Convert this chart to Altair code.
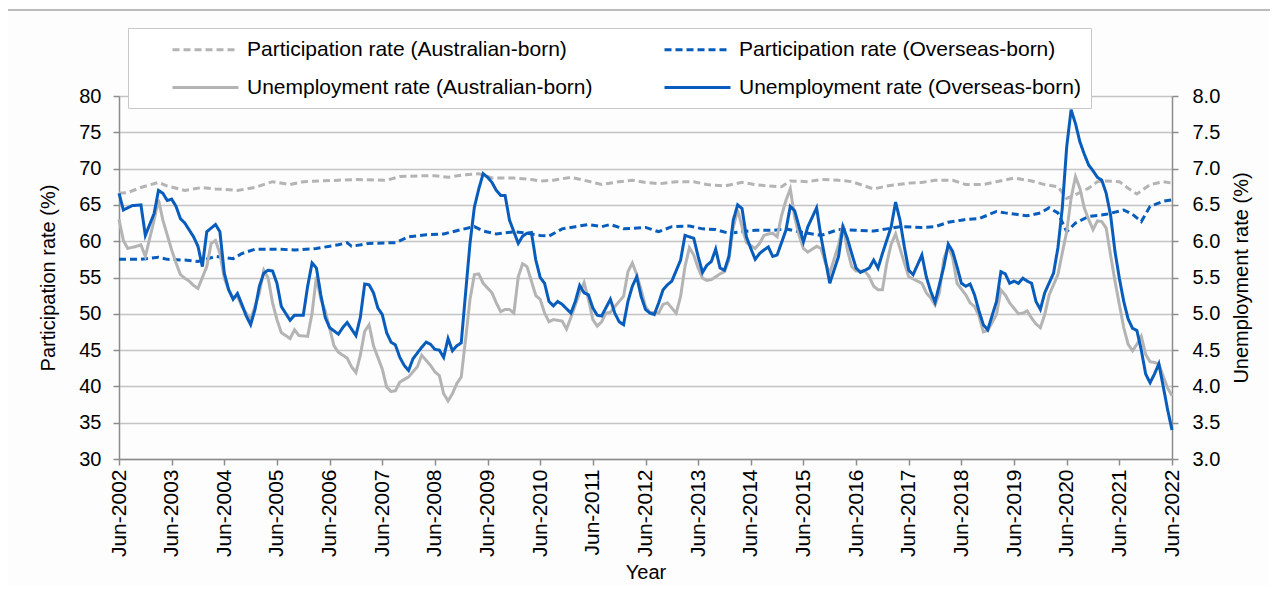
import altair as alt
import pandas as pd

# Month offsets from Jun-2002 (0 = Jun-2002, 240 = Jun-2022) and values
PART_AUS = [(0, 66.6), (2, 66.7), (5, 67.4), (9, 68.1), (11, 67.6), (15, 67.0), (19, 67.4), (22, 67.2),
            (27, 67.0), (31, 67.4), (35, 68.2), (39, 67.8), (42, 68.2), (46, 68.3), (50, 68.4), (54, 68.5),
            (61, 68.4), (64, 68.9), (69, 69.0), (72, 69.0), (75, 68.8), (78, 69.1), (82, 69.3), (85, 68.7),
            (90, 68.7), (94, 68.5), (96, 68.3), (99, 68.4), (103, 68.8), (106, 68.4), (110, 67.8), (114, 68.2),
            (117, 68.4), (120, 68.1), (123, 67.9), (127, 68.2), (131, 68.2), (134, 67.8), (138, 67.6),
            (142, 68.1), (145, 67.8), (148, 67.6), (151, 67.5), (153, 68.3), (157, 68.2), (160, 68.5),
            (164, 68.4), (167, 68.2), (172, 67.2), (175, 67.6), (180, 68.0), (183, 68.1), (186, 68.4),
            (190, 68.4), (193, 67.8), (197, 67.8), (200, 68.2), (204, 68.7), (208, 68.3), (211, 67.8),
            (214, 67.5), (216, 65.9), (218, 66.4), (221, 67.3), (223, 68.2), (225, 68.3), (228, 68.2),
            (230, 67.3), (232, 66.5), (235, 67.8), (238, 68.2), (240, 68.0)]

PART_OS = [(0, 57.5), (5, 57.5), (9, 57.8), (11, 57.5), (15, 57.4), (18, 57.2), (22, 57.9), (26, 57.6),
           (28, 58.3), (31, 58.9), (36, 58.9), (40, 58.8), (45, 59.0), (50, 59.5), (52, 59.8), (53, 59.3),
           (57, 59.7), (63, 59.8), (66, 60.6), (70, 60.9), (74, 61.0), (78, 61.6), (81, 62.0), (83, 61.4),
           (86, 61.0), (90, 61.3), (93, 61.1), (96, 60.8), (98, 60.7), (101, 61.7), (104, 62.0), (107, 62.3),
           (110, 62.0), (112, 62.3), (115, 61.7), (120, 61.9), (123, 61.3), (126, 62.0), (130, 62.1),
           (133, 61.7), (136, 61.6), (139, 61.1), (142, 61.3), (145, 61.5), (149, 61.5), (152, 61.7),
           (155, 61.3), (160, 60.8), (164, 61.6), (168, 61.5), (172, 61.4), (175, 61.7), (178, 62.0),
           (183, 61.9), (186, 62.0), (189, 62.6), (192, 62.9), (193, 63.0), (196, 63.1), (200, 64.1),
           (202, 63.9), (207, 63.5), (210, 63.9), (212, 64.6), (214, 63.9), (216, 61.3), (218, 62.5),
           (221, 63.4), (225, 63.7), (229, 64.3), (231, 63.7), (233, 62.7), (235, 64.8), (238, 65.5),
           (240, 65.7)]

UNEMP_AUS = [(0, 6.30), (1, 6.01), (2, 5.90), (4, 5.93), (5, 5.95), (6, 5.79), (8, 6.29), (9, 6.57),
             (10, 6.29), (12, 5.88), (13, 5.70), (14, 5.54), (15, 5.49), (16, 5.45), (17, 5.39), (18, 5.35),
             (20, 5.65), (21, 5.97), (22, 6.01), (23, 5.83), (24, 5.49), (25, 5.33), (26, 5.22), (27, 5.24),
             (28, 5.10), (29, 5.01), (30, 4.92), (32, 5.29), (33, 5.60), (34, 5.49), (35, 5.15), (36, 4.92),
             (37, 4.74), (39, 4.66), (40, 4.78), (41, 4.70), (43, 4.69), (44, 5.01), (45, 5.51), (46, 5.20),
             (47, 5.04), (49, 4.56), (50, 4.47), (52, 4.39), (53, 4.27), (54, 4.19), (55, 4.43), (56, 4.76),
             (57, 4.85), (58, 4.56), (60, 4.24), (61, 3.99), (62, 3.93), (63, 3.94), (64, 4.06), (66, 4.13),
             (68, 4.27), (69, 4.43), (71, 4.29), (72, 4.20), (73, 4.15), (74, 3.90), (75, 3.80), (76, 3.90),
             (77, 4.04), (78, 4.13), (79, 4.65), (80, 5.20), (81, 5.54), (82, 5.55), (83, 5.42), (85, 5.29),
             (86, 5.15), (87, 5.03), (88, 5.06), (89, 5.06), (90, 5.01), (91, 5.51), (92, 5.69), (93, 5.65),
             (94, 5.45), (95, 5.25), (96, 5.20), (97, 5.01), (98, 4.89), (99, 4.92), (101, 4.90), (102, 4.79),
             (103, 4.95), (105, 5.29), (106, 5.43), (107, 5.20), (108, 4.92), (109, 4.83), (110, 4.89),
             (111, 5.01), (112, 5.02), (113, 5.10), (115, 5.24), (116, 5.58), (117, 5.70), (118, 5.54),
             (119, 5.33), (120, 5.10), (121, 5.02), (123, 5.01), (124, 5.13), (125, 5.15), (126, 5.08),
             (127, 5.01), (128, 5.24), (129, 5.65), (130, 5.91), (131, 5.81), (132, 5.63), (133, 5.49),
             (134, 5.46), (135, 5.47), (136, 5.51), (137, 5.55), (138, 5.58), (139, 5.74), (140, 6.19),
             (141, 6.43), (142, 6.20), (143, 5.98), (145, 5.90), (146, 5.97), (147, 6.08), (148, 6.10),
             (149, 6.11), (150, 6.06), (151, 6.35), (152, 6.56), (153, 6.72), (154, 6.33), (155, 6.08),
             (156, 5.90), (157, 5.85), (159, 5.93), (160, 5.90), (161, 5.70), (162, 5.56), (164, 5.95),
             (165, 6.23), (166, 5.88), (167, 5.65), (168, 5.59), (170, 5.59), (171, 5.51), (172, 5.38),
             (173, 5.33), (174, 5.33), (175, 5.70), (176, 5.96), (177, 6.10), (178, 5.90), (179, 5.70),
             (180, 5.51), (181, 5.48), (183, 5.42), (184, 5.29), (185, 5.22), (186, 5.12), (187, 5.29),
             (188, 5.76), (189, 5.92), (190, 5.78), (191, 5.42), (193, 5.26), (194, 5.15), (195, 5.10),
             (196, 4.97), (197, 4.75), (198, 4.77), (200, 4.99), (201, 5.33), (202, 5.26), (203, 5.15),
             (205, 5.00), (206, 5.01), (207, 5.04), (208, 4.94), (209, 4.86), (210, 4.81), (211, 4.99),
             (212, 5.26), (214, 5.54), (215, 5.84), (216, 6.13), (217, 6.59), (218, 6.89), (219, 6.73),
             (220, 6.46), (221, 6.30), (222, 6.16), (223, 6.28), (224, 6.27), (225, 6.18), (226, 5.81),
             (227, 5.45), (228, 5.13), (229, 4.81), (230, 4.58), (231, 4.49), (232, 4.58), (233, 4.69),
             (234, 4.44), (235, 4.34), (236, 4.33), (237, 4.31), (238, 4.14), (239, 3.98), (240, 3.87)]

UNEMP_OS = [(0, 6.66), (1, 6.43), (3, 6.49), (5, 6.50), (6, 6.08), (8, 6.38), (9, 6.70), (10, 6.66),
            (11, 6.56), (12, 6.58), (13, 6.48), (14, 6.31), (15, 6.25), (17, 6.06), (18, 5.93), (19, 5.65),
            (20, 6.13), (22, 6.23), (23, 6.13), (24, 5.56), (25, 5.33), (26, 5.20), (27, 5.28), (28, 5.13),
            (29, 4.97), (30, 4.85), (31, 5.06), (32, 5.38), (33, 5.56), (34, 5.60), (35, 5.59), (36, 5.42),
            (37, 5.10), (39, 4.91), (40, 4.98), (42, 4.98), (43, 5.38), (44, 5.70), (45, 5.63), (46, 5.26),
            (47, 4.95), (48, 4.81), (50, 4.72), (51, 4.81), (52, 4.88), (54, 4.70), (55, 4.95), (56, 5.41),
            (57, 5.40), (58, 5.29), (59, 5.08), (60, 4.99), (61, 4.74), (62, 4.61), (63, 4.57), (64, 4.40),
            (65, 4.29), (66, 4.22), (67, 4.38), (69, 4.54), (70, 4.61), (71, 4.58), (72, 4.51), (73, 4.50),
            (74, 4.40), (75, 4.66), (76, 4.49), (77, 4.56), (78, 4.60), (79, 5.29), (80, 5.97), (81, 6.47),
            (82, 6.72), (83, 6.93), (84, 6.88), (85, 6.81), (86, 6.70), (87, 6.63), (88, 6.63), (89, 6.29),
            (91, 5.97), (92, 6.07), (93, 6.11), (94, 6.12), (95, 5.74), (96, 5.50), (97, 5.42), (98, 5.17),
            (99, 5.11), (100, 5.17), (101, 5.13), (103, 5.01), (104, 5.17), (105, 5.39), (106, 5.29),
            (107, 5.26), (108, 5.08), (109, 4.98), (110, 4.97), (112, 5.20), (113, 5.01), (114, 4.89),
            (115, 4.85), (116, 5.17), (117, 5.38), (118, 5.51), (119, 5.24), (120, 5.06), (121, 5.01),
            (122, 4.99), (123, 5.15), (124, 5.33), (125, 5.40), (126, 5.45), (128, 5.74), (129, 6.08),
            (130, 6.06), (131, 6.04), (132, 5.79), (133, 5.57), (134, 5.67), (135, 5.72), (136, 5.89),
            (137, 5.63), (138, 5.60), (139, 5.79), (140, 6.29), (141, 6.50), (142, 6.45), (143, 6.06),
            (144, 5.90), (145, 5.75), (146, 5.83), (147, 5.88), (148, 5.92), (149, 5.79), (150, 5.81),
            (152, 6.15), (153, 6.48), (154, 6.42), (155, 6.20), (156, 5.99), (157, 6.20), (159, 6.46),
            (160, 6.06), (161, 5.74), (162, 5.42), (164, 5.79), (165, 6.20), (166, 6.04), (167, 5.83),
            (168, 5.63), (169, 5.57), (170, 5.60), (171, 5.63), (172, 5.74), (173, 5.63), (174, 5.83),
            (176, 6.20), (177, 6.54), (178, 6.29), (179, 5.92), (180, 5.60), (181, 5.54), (183, 5.81),
            (184, 5.51), (185, 5.31), (186, 5.16), (188, 5.65), (189, 5.96), (190, 5.86), (191, 5.65),
            (192, 5.42), (193, 5.38), (194, 5.41), (195, 5.26), (196, 5.04), (197, 4.85), (198, 4.78),
            (200, 5.17), (201, 5.58), (202, 5.55), (203, 5.42), (204, 5.45), (205, 5.42), (206, 5.49),
            (207, 5.45), (208, 5.42), (209, 5.17), (210, 5.06), (211, 5.29), (213, 5.56), (214, 5.91),
            (215, 6.46), (216, 7.30), (217, 7.81), (218, 7.62), (219, 7.37), (220, 7.20), (221, 7.05),
            (222, 6.97), (223, 6.88), (224, 6.84), (225, 6.66), (226, 6.36), (227, 5.86), (228, 5.49),
            (229, 5.17), (230, 4.93), (231, 4.80), (232, 4.77), (233, 4.50), (234, 4.17), (235, 4.05),
            (236, 4.17), (237, 4.31), (238, 4.00), (239, 3.68), (240, 3.40)]

# legend order (entries fill column by column)
SERIES = ["Participation rate (Australian-born)", "Unemployment rate (Australian-born)",
          "Participation rate (Overseas-born)", "Unemployment rate (Overseas-born)"]
COLORS = ["#b4b4b4", "#b4b4b4", "#075cbc", "#075cbc"]
DASHES = [[7, 4], [1, 0], [7, 4], [1, 0]]
YEAR_TICKS = list(range(0, 241, 12))
LEFT_TICKS = list(range(30, 81, 5))
RIGHT_TICKS = [3.0, 3.5, 4.0, 4.5, 5.0, 5.5, 6.0, 6.5, 7.0, 7.5, 8.0]

FONT = "Liberation Sans"


def frame(pairs, name):
    return pd.DataFrame({"month": [p[0] for p in pairs], "value": [p[1] for p in pairs], "series": name})


part_df = pd.concat([frame(PART_AUS, SERIES[0]), frame(PART_OS, SERIES[2])], ignore_index=True)
unemp_df = pd.concat([frame(UNEMP_AUS, SERIES[1]), frame(UNEMP_OS, SERIES[3])], ignore_index=True)

x_enc = alt.X("month:Q", scale=alt.Scale(domain=[0, 240], nice=False, zero=False),
              axis=alt.Axis(values=YEAR_TICKS, labelExpr="'Jun-' + (2002 + datum.value / 12)",
                            labelAngle=270, title="Year", grid=False, tickSize=6, labelPadding=4,
                            labelFontSize=21, titlePadding=6))

color_enc = alt.Color("series:N", scale=alt.Scale(domain=SERIES, range=COLORS),
                      legend=alt.Legend(title=None, orient="none", legendX=9, legendY=-68, columns=2,
                                        symbolType="M-3.3,0H3.3", symbolSize=400, symbolStrokeWidth=3,
                                        symbolOffset=56, labelLimit=600, labelFontSize=21,
                                        labelOffset=30, rowPadding=16, columnPadding=37, padding=10,
                                        fillColor="white", strokeColor="#c8c8c8"))
dash_enc = alt.StrokeDash("series:N", scale=alt.Scale(domain=SERIES, range=DASHES), legend=None)

part = alt.Chart(part_df).mark_line(strokeWidth=3).encode(
    x=x_enc,
    y=alt.Y("value:Q", scale=alt.Scale(domain=[30, 80], nice=False, zero=False),
            axis=alt.Axis(values=LEFT_TICKS, title="Participation rate (%)", grid=True,
                          tickSize=6, labelPadding=12, titlePadding=20)),
    color=color_enc,
    strokeDash=dash_enc,
    order=alt.Order("month:Q"),
)

unemp = alt.Chart(unemp_df).mark_line(strokeWidth=3).encode(
    x=x_enc,
    y=alt.Y("value:Q", scale=alt.Scale(domain=[3, 8], nice=False, zero=False),
            axis=alt.Axis(values=RIGHT_TICKS, format=".1f", orient="right", title="Unemployment rate (%)",
                          grid=False, tickSize=6, labelPadding=14, titlePadding=12, titleAngle=270,
                          titleBaseline="top")),
    color=color_enc,
    strokeDash=dash_enc,
    order=alt.Order("month:Q"),
)

border = alt.Chart(pd.DataFrame({"k": [0]})).mark_rect(fill=None, stroke="#a6a6a6", strokeWidth=1.5).encode(
    x=alt.value(-112), x2=alt.value(1200), y=alt.value(-86), y2=alt.value(600)
)

chart = alt.layer(border, part, unemp).resolve_scale(y="independent").properties(
    width=1053, height=363,
    autosize=alt.AutoSizeParams(type="none"),
    padding={"left": 111, "top": 88, "right": 98, "bottom": 126},
    background="#fdfdfd",
).configure_axis(
    labelFont=FONT, titleFont=FONT, labelFontSize=20, titleFontSize=20, titleFontWeight="normal",
    labelColor="#000000", titleColor="#000000", domainColor="#8c8c8c", tickColor="#8c8c8c",
    domainWidth=1.5, tickWidth=1.5, gridColor="#c4c4c4", gridWidth=1.5,
).configure_legend(
    labelFont=FONT, labelColor="#000000",
).configure_view(stroke=None)

chart.save("out.html", embed_options={"renderer": "svg", "actions": False})
